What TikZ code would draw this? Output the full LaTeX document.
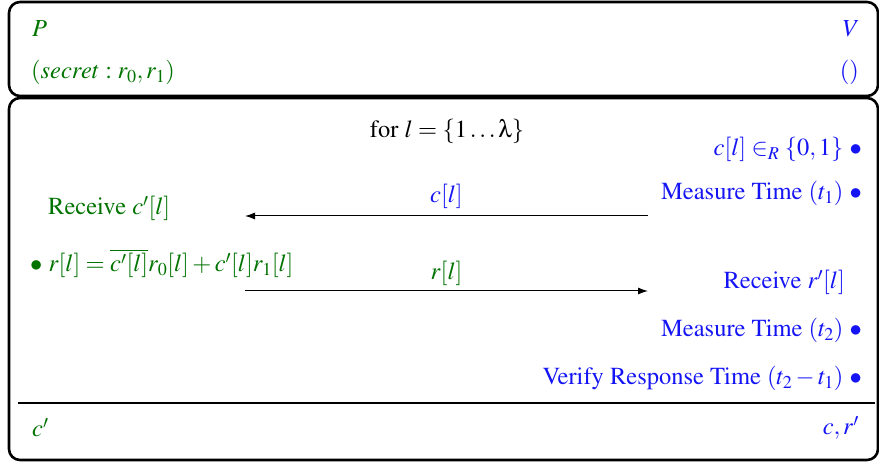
\documentclass[tikz,border=0pt]{standalone}
\usepackage[T1]{fontenc}
\usepackage{mathptmx}
\usetikzlibrary{arrows.meta}
\newcommand{\myuplambda}{\mbox{\usefont{U}{psy}{m}{n}l}}
\definecolor{pgreen}{RGB}{0,115,0}
\definecolor{vblue}{RGB}{20,20,245}
\tikzset{
  frame/.style={line width=2.6pt, rounded corners=11pt},
  sep/.style={line width=2.6pt},
  txt/.style={inner sep=0pt, font=\fontsize{24.5}{29}\selectfont},
  ptxt/.style={txt, text=pgreen},
  vtxt/.style={txt, text=vblue},
  msg/.style={-{Latex[length=10pt,width=7pt]}, line width=1pt},
}
\begin{document}
\begin{tikzpicture}[x=1pt,y=-1pt]
\useasboundingbox (0,0) rectangle (879,462);
% frames
\draw[frame] (9,96) rectangle (878,2);
\draw[frame] (9,460) rectangle (878,98);
\coordinate (sl) at (18,403);
\coordinate (sr) at (875,403);
\draw[sep] (sl) -- (sr);
% header
\node[ptxt, anchor=base west] (P) at (32,37) {$P$};
\node[ptxt, anchor=base west] (Psec) at (31,79) {$(secret: r_0, r_1)$};
\node[vtxt, anchor=base east] (V) at (860,37) {$V$};
\node[vtxt, anchor=base east] (Vin) at (859,79) {$()$};
% loop
\node[txt, anchor=base] (loop) at (447,138) {for $l=\{1\ldots\myuplambda\}$};
\node[vtxt, anchor=base east] (v1) at (862,156) {$c[l]\in_R\{0,1\}$ $\bullet$};
\node[vtxt, anchor=base east] (v2) at (862,200) {Measure Time $(t_1)$ $\bullet$};
\node[ptxt, anchor=base west] (p1) at (48,215) {Receive $c'[l]$};
\coordinate (cS) at (648,216);
\coordinate (cE) at (245,216);
\draw[msg] (cS) -- node[vtxt, anchor=base, yshift=13pt] (cl) {$c[l]$} (cE);
\node[ptxt, anchor=base west] (p2) at (30,272) {$\bullet$ $r[l]=\overline{c'[l]}r_0[l]+c'[l]r_1[l]$};
\coordinate (rS) at (245,291);
\coordinate (rE) at (648,291);
\draw[msg] (rS) -- node[ptxt, anchor=base, yshift=11pt] (rl) {$r[l]$} (rE);
\node[vtxt, anchor=base east] (v3) at (845,289) {Receive $r'[l]$};
\node[vtxt, anchor=base east] (v4) at (862,337) {Measure Time $(t_2)$ $\bullet$};
\node[vtxt, anchor=base east] (v5) at (862,385) {Verify Response Time $(t_2-t_1)$ $\bullet$};
% outputs
\node[ptxt, anchor=base west] (pout) at (32,437) {$c'$};
\node[vtxt, anchor=base east] (vout) at (859,435) {$c,r'$};
\end{tikzpicture}
\end{document}
